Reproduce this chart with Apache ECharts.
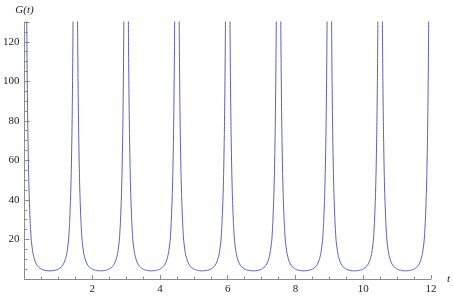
<!DOCTYPE html>
<html>
<head>
<meta charset="utf-8">
<script src="https://cdn.jsdelivr.net/npm/echarts@6/dist/echarts.min.js"></script>
<style>
html,body{margin:0;padding:0;background:#fff;}
#chart{width:453px;height:296px;}
</style>
</head>
<body>
<div id="chart"></div>
<script>
// t samples for each branch (one row per period between singularities)
const tValues = [
  [0.06,0.07,0.08,0.09,0.10,0.12,0.14,0.17,0.20,0.25,0.30,0.35,0.40,0.50,0.60,0.75,0.90,1.00,1.10,1.15,1.20,1.25,1.30,1.33,1.36,1.38,1.40,1.41,1.42,1.43,1.44],
  [1.56,1.57,1.58,1.59,1.60,1.62,1.64,1.67,1.70,1.75,1.80,1.85,1.90,2.00,2.10,2.25,2.40,2.50,2.60,2.65,2.70,2.75,2.80,2.83,2.86,2.88,2.90,2.91,2.92,2.93,2.94],
  [3.06,3.07,3.08,3.09,3.10,3.12,3.14,3.17,3.20,3.25,3.30,3.35,3.40,3.50,3.60,3.75,3.90,4.00,4.10,4.15,4.20,4.25,4.30,4.33,4.36,4.38,4.40,4.41,4.42,4.43,4.44],
  [4.56,4.57,4.58,4.59,4.60,4.62,4.64,4.67,4.70,4.75,4.80,4.85,4.90,5.00,5.10,5.25,5.40,5.50,5.60,5.65,5.70,5.75,5.80,5.83,5.86,5.88,5.90,5.91,5.92,5.93,5.94],
  [6.06,6.07,6.08,6.09,6.10,6.12,6.14,6.17,6.20,6.25,6.30,6.35,6.40,6.50,6.60,6.75,6.90,7.00,7.10,7.15,7.20,7.25,7.30,7.33,7.36,7.38,7.40,7.41,7.42,7.43,7.44],
  [7.56,7.57,7.58,7.59,7.60,7.62,7.64,7.67,7.70,7.75,7.80,7.85,7.90,8.00,8.10,8.25,8.40,8.50,8.60,8.65,8.70,8.75,8.80,8.83,8.86,8.88,8.90,8.91,8.92,8.93,8.94],
  [9.06,9.07,9.08,9.09,9.10,9.12,9.14,9.17,9.20,9.25,9.30,9.35,9.40,9.50,9.60,9.75,9.90,10.00,10.10,10.15,10.20,10.25,10.30,10.33,10.36,10.38,10.40,10.41,10.42,10.43,10.44],
  [10.56,10.57,10.58,10.59,10.60,10.62,10.64,10.67,10.70,10.75,10.80,10.85,10.90,11.00,11.10,11.25,11.40,11.50,11.60,11.65,11.70,11.75,11.80,11.83,11.86,11.88,11.90,11.91,11.92,11.93,11.94]
];
// G(t) for each branch
const gValues = [
  [150,122,102,86,73,54,41,28,19.5,13,9.6,7.6,6.3,5.0,4.4,4.1,4.4,5.0,6.3,7.6,9.6,13,19.5,28,41,54,73,86,102,122,150],
  [150,122,102,86,73,54,41,28,19.5,13,9.6,7.6,6.3,5.0,4.4,4.1,4.4,5.0,6.3,7.6,9.6,13,19.5,28,41,54,73,86,102,122,150],
  [150,122,102,86,73,54,41,28,19.5,13,9.6,7.6,6.3,5.0,4.4,4.1,4.4,5.0,6.3,7.6,9.6,13,19.5,28,41,54,73,86,102,122,150],
  [150,122,102,86,73,54,41,28,19.5,13,9.6,7.6,6.3,5.0,4.4,4.1,4.4,5.0,6.3,7.6,9.6,13,19.5,28,41,54,73,86,102,122,150],
  [150,122,102,86,73,54,41,28,19.5,13,9.6,7.6,6.3,5.0,4.4,4.1,4.4,5.0,6.3,7.6,9.6,13,19.5,28,41,54,73,86,102,122,150],
  [150,122,102,86,73,54,41,28,19.5,13,9.6,7.6,6.3,5.0,4.4,4.1,4.4,5.0,6.3,7.6,9.6,13,19.5,28,41,54,73,86,102,122,150],
  [150,122,102,86,73,54,41,28,19.5,13,9.6,7.6,6.3,5.0,4.4,4.1,4.4,5.0,6.3,7.6,9.6,13,19.5,28,41,54,73,86,102,122,150],
  [150,122,102,86,73,54,41,28,19.5,13,9.6,7.6,6.3,5.0,4.4,4.1,4.4,5.0,6.3,7.6,9.6,13,19.5,28,41,54,73,86,102,122,150]
];
const xTicks = [0, 2, 4, 6, 8, 10, 12];
const yTicks = [0, 20, 40, 60, 80, 100, 120];
const xAxisName = 't';
const yAxisName = 'G(t)';

const axisColor = '#8c8c8c';
const serif = "'Liberation Serif', 'DejaVu Serif', serif";

const series = tValues.map(function (ts, i) {
  return {
    type: 'line',
    showSymbol: false,
    symbol: 'none',
    clip: true,
    smooth: 0.2,
    lineStyle: {color: '#5e5eb6', width: 1},
    data: ts.map(function (t, j) { return [t, gValues[i][j]]; }),
    silent: true,
    animation: false
  };
});

const chart = echarts.init(document.getElementById('chart'), null, {renderer: 'canvas'});
chart.setOption({
  animation: false,
  textStyle: {fontFamily: serif},
  grid: {left: 21, right: 22, top: 22, bottom: 17, containLabel: false},
  xAxis: {
    type: 'value',
    min: xTicks[0],
    max: xTicks[xTicks.length - 1],
    interval: 2,
    name: xAxisName,
    nameLocation: 'end',
    nameGap: 16,
    nameTextStyle: {fontFamily: serif, fontStyle: 'italic', fontSize: 11, color: '#222', verticalAlign: 'middle', padding: [4, 0, 0, 0]},
    axisLine: {show: true, lineStyle: {color: axisColor, width: 1}},
    axisTick: {show: true, inside: true, length: 4, lineStyle: {color: axisColor}},
    minorTick: {show: true, splitNumber: 4, length: 2.5, lineStyle: {color: axisColor}},
    axisLabel: {margin: 5, fontFamily: serif, fontSize: 11, color: '#222', showMinLabel: false, formatter: function (v) { return xTicks.indexOf(v) > 0 ? String(v) : ''; }},
    splitLine: {show: false}
  },
  yAxis: {
    type: 'value',
    min: 0,
    max: 130,
    interval: 20,
    name: yAxisName,
    nameLocation: 'end',
    nameGap: 6,
    nameTextStyle: {fontFamily: serif, fontStyle: 'italic', fontSize: 11, color: '#222', align: 'center'},
    axisLine: {show: true, lineStyle: {color: axisColor, width: 1}},
    axisTick: {show: true, inside: true, length: 5, lineStyle: {color: axisColor}},
    minorTick: {show: true, splitNumber: 4, length: 3, lineStyle: {color: axisColor}},
    axisLabel: {margin: 5, fontFamily: serif, fontSize: 11, color: '#222', showMinLabel: false, showMaxLabel: false, formatter: function (v) { return yTicks.indexOf(v) > 0 ? String(v) : ''; }},
    splitLine: {show: false}
  },
  series: series
});
</script>
</body>
</html>
